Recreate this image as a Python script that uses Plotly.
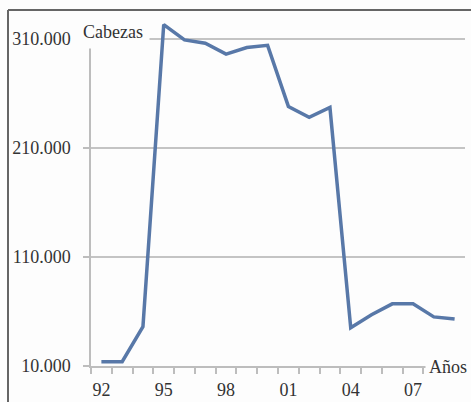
import plotly.graph_objects as go

years = ["92", "93", "94", "95", "96", "97", "98", "99", "00", "01",
         "02", "03", "04", "05", "06", "07", "08", "09"]
cabezas = [14000, 14000, 46000, 323000, 309000, 306000, 296000, 302000, 304000,
           248000, 238000, 247000, 45000, 57000, 67000, 67000, 55000, 53000]
shown_years = ["92", "95", "98", "01", "04", "07"]
y_ticks = [10000, 110000, 210000, 310000]

W, H = 471, 402
L, R, T, B = 91, 6, 17, 36
pw = W - L - R
ph = H - T - B


def px(xp):
    return (xp - L) / pw


def py(yp):
    return 1 - (yp - T) / ph


fig = go.Figure()
fig.add_trace(go.Scatter(
    x=years, y=cabezas, mode="lines",
    line=dict(color="#5878A8", width=3.5),
    hoverinfo="skip",
))

font = "Liberation Serif"
fig.update_layout(
    width=W, height=H,
    margin=dict(l=L, r=R, t=T, b=B),
    paper_bgcolor="#fdfdfd", plot_bgcolor="#fdfdfd",
    showlegend=False,
    separators=",.",
    font=dict(family=font, size=18, color="#333333"),
    xaxis=dict(
        type="category",
        tickmode="array",
        tickvals=years,
        ticktext=[y if y in shown_years else "" for y in years],
        tickson="boundaries",
        tickangle=0,
        automargin=False,
        ticks="outside", ticklen=6, tickcolor="#bdbdbd", tickwidth=1.5,
        showgrid=False,
        showline=True, linecolor="#bdbdbd", linewidth=1.5,
        zeroline=False,
        ticklabelstandoff=7,
        range=[-0.5, len(years) - 0.5],
        tickfont=dict(family=font, size=18, color="#333333"),
    ),
    yaxis=dict(
        range=[10000, 330000],
        tickmode="array",
        tickvals=y_ticks,
        tickformat=",d",
        automargin=False,
        ticks="outside", ticklen=6, tickcolor="#bdbdbd", tickwidth=1.5,
        showgrid=True, gridcolor="#c4c4c4", gridwidth=1.5,
        showline=True, linecolor="#bdbdbd", linewidth=1.5,
        zeroline=False,
        ticklabelstandoff=9,
        tickfont=dict(family=font, size=18, color="#333333"),
    ),
    annotations=[
        dict(text="Cabezas", xref="paper", yref="paper",
             x=px(113), y=py(32), xanchor="center", yanchor="middle",
             showarrow=False, bgcolor="#fdfdfd", borderpad=6,
             font=dict(family=font, size=18, color="#333333")),
        dict(text="Años", xref="paper", yref="paper",
             x=px(448), y=py(367), xanchor="center", yanchor="middle",
             showarrow=False, bgcolor="#fdfdfd", borderpad=3,
             font=dict(family=font, size=18, color="#333333")),
    ],
    shapes=[
        dict(type="line", xref="paper", yref="paper",
             x0=px(8), x1=px(8), y0=py(10), y1=py(410),
             line=dict(color="#666666", width=2)),
        dict(type="line", xref="paper", yref="paper",
             x0=px(8), x1=px(480), y0=py(10), y1=py(10),
             line=dict(color="#666666", width=2)),
    ],
)

fig.write_html(
    "out.html",
    config={"displayModeBar": False},
    post_script="document.body.style.margin='0';document.body.style.overflow='hidden';",
)
